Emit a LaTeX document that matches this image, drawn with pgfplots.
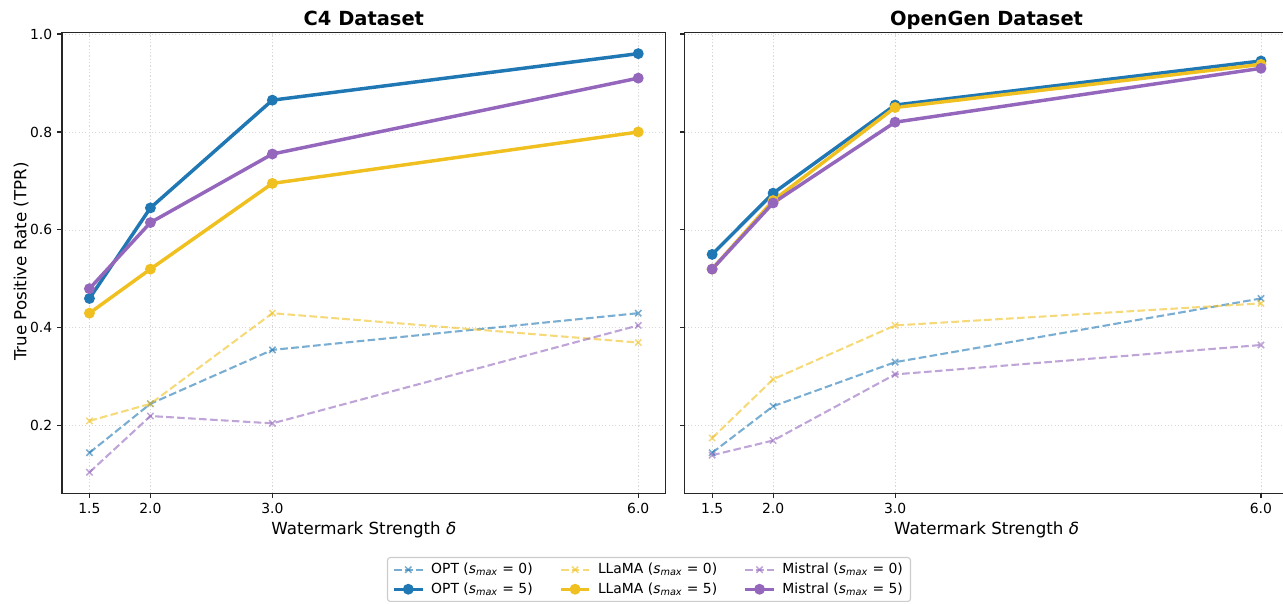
\documentclass[border=0pt]{standalone}
\usepackage{fontspec}
\setmainfont{DejaVu Sans}
\usepackage{pgfplots}
\pgfplotsset{compat=1.18}
\definecolor{optc}{HTML}{1F77B4}
\definecolor{llamac}{RGB}{240,192,32}
\definecolor{mistc}{HTML}{9467BD}
\definecolor{gridc}{RGB}{215,215,215}
\definecolor{legc}{RGB}{204,204,204}
\pgfplotsset{
  panel/.style={
    scale only axis, width=434.66pt, height=331.6pt,
    xmin=1.275, xmax=6.225, ymin=0.06225, ymax=1.00275,
    xtick={1.5,2,3,6}, xticklabels={1.5,2.0,3.0,6.0},
    ytick={0.2,0.4,0.6,0.8,1.0},
    yticklabel style={/pgf/number format/.cd, fixed, fixed zerofill, precision=1},
    /pgf/number format/assume math mode=true,
    tick label style={font=\fontsize{10}{12}\selectfont},
    label style={font=\fontsize{12}{14}\selectfont},
    title style={font=\fontsize{14}{16}\selectfont\bfseries, at={(0.5,1)}, anchor=base, yshift=-0.5pt},
    grid=major, grid style={dash pattern=on 0.8pt off 1.6pt, gridc, line width=0.6pt},
    tick align=outside, major tick length=3.5pt, xtick pos=bottom, ytick pos=left,
    axis line style={line width=0.8pt, black!85},
    tick style={line width=0.8pt, black!85},
    xlabel={Watermark Strength \textit{δ}},
    xlabel style={at={(axis description cs:0.5,-0.0855)}, anchor=base, yshift=-1.5pt},
    legend image code/.code={\draw[mark repeat=2,mark phase=2] plot coordinates {(0cm,0cm) (0.36cm,0cm) (0.72cm,0cm)};},
  },
  s0/.style={dashed, dash pattern=on 5.5pt off 2.4pt, line width=1.5pt, opacity=0.6, mark=x, mark size=3.2pt, mark options={solid, line width=1.1pt}},
  s5/.style={solid, line width=2.5pt, mark=*, mark size=2.6pt},
}
\begin{document}
\begin{tikzpicture}
\useasboundingbox (0,0) rectangle (923.76pt,-434.16pt);
\begin{axis}[panel, at={(44.64pt,-23.54pt)}, anchor=north west,
  title={C4 Dataset},
  ylabel={True Positive Rate (TPR)},
  ylabel style={at={(axis description cs:-0.0588,0.5)}, anchor=base, rotate=0, xshift=1pt},
  legend columns=3,
  legend cell align=left,
  legend style={at={(0.9723,-0.1383)}, anchor=north, draw=legc, rounded corners=2pt, line width=0.8pt,
    font=\fontsize{10}{12}\selectfont, inner xsep=3.5pt, inner ysep=2.2pt,
    /tikz/every odd column/.append style={column sep=3pt},
    /tikz/every even column/.append style={column sep=17pt},
    row sep=1pt},
]
\addplot[s0, color=optc] coordinates {(1.5,0.145)(2,0.245)(3,0.355)(6,0.43)};
\addlegendentry{OPT (\textit{s}\textsubscript{\textit{max}} = 0)}
\addplot[s0, color=llamac] coordinates {(1.5,0.21)(2,0.245)(3,0.43)(6,0.37)};
\addlegendentry{LLaMA (\textit{s}\textsubscript{\textit{max}} = 0)}
\addplot[s0, color=mistc] coordinates {(1.5,0.105)(2,0.22)(3,0.205)(6,0.405)};
\addlegendentry{Mistral (\textit{s}\textsubscript{\textit{max}} = 0)}
\addplot[s5, color=optc] coordinates {(1.5,0.46)(2,0.645)(3,0.865)(6,0.96)};
\addlegendentry{OPT (\textit{s}\textsubscript{\textit{max}} = 5)}
\addplot[s5, color=llamac] coordinates {(1.5,0.43)(2,0.52)(3,0.695)(6,0.80)};
\addlegendentry{LLaMA (\textit{s}\textsubscript{\textit{max}} = 5)}
\addplot[s5, color=mistc] coordinates {(1.5,0.48)(2,0.615)(3,0.755)(6,0.91)};
\addlegendentry{Mistral (\textit{s}\textsubscript{\textit{max}} = 5)}
\end{axis}
\begin{axis}[panel, at={(492.98pt,-23.54pt)}, anchor=north west,
  title={OpenGen Dataset},
  yticklabels={},
]
\addplot[s0, color=optc] coordinates {(1.5,0.145)(2,0.24)(3,0.33)(6,0.46)};
\addplot[s0, color=llamac] coordinates {(1.5,0.175)(2,0.295)(3,0.405)(6,0.45)};
\addplot[s0, color=mistc] coordinates {(1.5,0.14)(2,0.17)(3,0.305)(6,0.365)};
\addplot[s5, color=optc] coordinates {(1.5,0.55)(2,0.675)(3,0.855)(6,0.945)};
\addplot[s5, color=llamac] coordinates {(1.5,0.52)(2,0.66)(3,0.85)(6,0.938)};
\addplot[s5, color=mistc] coordinates {(1.5,0.52)(2,0.655)(3,0.82)(6,0.93)};
\end{axis}
\end{tikzpicture}
\end{document}
